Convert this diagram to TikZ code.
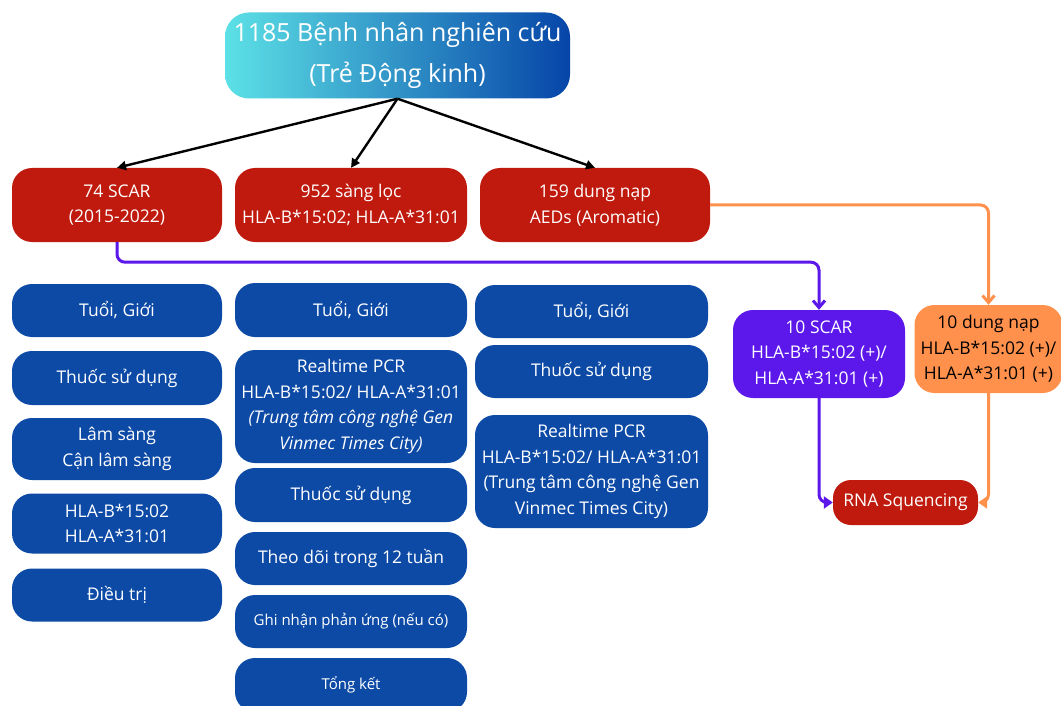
\documentclass[tikz,border=0pt]{standalone}
\usepackage{fontspec}
\setmainfont{Open Sans}
\usepackage{tikz}
\usetikzlibrary{arrows.meta}
\definecolor{scarred}{HTML}{BF1A0D}
\definecolor{itemblue}{HTML}{0C4AA6}
\definecolor{scarpurple}{HTML}{5C17EB}
\definecolor{tolorange}{HTML}{FF914D}
\definecolor{gradleft}{HTML}{5CE1E6}
\definecolor{gradright}{HTML}{0645A8}
\tikzset{
  % --- boxes ---
  flowbox/.style={rounded corners=20pt, align=center, inner sep=2pt,
                  text=white, font=\fontsize{17.5}{25.5}\selectfont},
  topbox/.style={flowbox, rounded corners=24pt, left color=gradleft,
                 right color=gradright, font=\fontsize{25}{41}\selectfont},
  redbox/.style={flowbox, fill=scarred},
  bluebox/.style={flowbox, fill=itemblue},
  purplebox/.style={flowbox, fill=scarpurple},
  orangebox/.style={flowbox, fill=tolorange, text=black},
  smalltext/.style={font=\fontsize{15}{18}\selectfont},
  % --- connectors ---
  split/.style={-{Triangle[length=9pt,width=9pt]}, line width=2.4pt, draw=black},
  scarflow/.style={line width=3pt, draw=scarpurple, rounded corners=8pt,
                   -{Straight Barb[length=7pt,width=12pt]}},
  tolflow/.style={scarflow, draw=tolorange},
  rnatip/.style={-{Triangle[length=9pt,width=12pt]}},
}

\begin{document}
\begin{tikzpicture}[x=1pt, y=-1pt,
  c1/.style={bluebox, minimum width=210pt},
  c2/.style={bluebox, minimum width=232pt},
  c3/.style={bluebox, minimum width=233pt},
]
  \clip (0,0) rectangle (1061,706);
  \fill[white] (0,0) rectangle (1061,706);

  % --- cohort (top) ---
  \node[topbox, minimum width=345pt, minimum height=86pt] (cohort) at (397.5,55.5)
        {1185 Bệnh nhân nghiên cứu\\(Trẻ Động kinh)};

  % --- three groups ---
  \node[redbox, minimum width=210pt, minimum height=74pt] (scar)   at (117,205) {74 SCAR\\(2015-2022)};
  \node[redbox, minimum width=232pt, minimum height=74pt] (screen) at (351,205) {952 sàng lọc\\HLA-B*15:02; HLA-A*31:01};
  \node[redbox, minimum width=230pt, minimum height=74pt] (tol)    at (595,205) {159 dung nạp\\AEDs (Aromatic)};

  % --- column 1: SCAR ---
  \node[c1, minimum height=53pt] (scarage)  at (117,310.5) {Tuổi, Giới};
  \node[c1, minimum height=54pt] (scardrug) at (117,378)   {Thuốc sử dụng};
  \node[c1, minimum height=62pt] (scarclin) at (117,449)   {Lâm sàng\\Cận lâm sàng};
  \node[c1, minimum height=60pt] (scarhla)  at (117,523.5) {HLA-B*15:02\\HLA-A*31:01};
  \node[c1, minimum height=53pt] (scartreat) at (117,595)  {Điều trị};

  % --- column 2: screening ---
  \node[c2, minimum height=54pt]  (scrage)  at (351,310)   {Tuổi, Giới};
  \node[c2, minimum height=113pt] (scrpcr)  at (351,406.5)
        {Realtime PCR\\HLA-B*15:02/ HLA-A*31:01\\\textit{(Trung tâm công nghệ Gen}\\\textit{Vinmec Times City)}};
  \node[c2, minimum height=54pt]  (scrdrug) at (351,495)   {Thuốc sử dụng};
  \node[c2, minimum height=53pt]  (scrfollow) at (351,558.5) {Theo dõi trong 12 tuần};
  \node[c2, smalltext, minimum height=53pt] (scrreact) at (351,621.5) {Ghi nhận phản ứng (nếu có)};
  \node[c2, smalltext, minimum height=54pt] (scrsum)   at (351,685)   {Tổng kết};

  % --- column 3: tolerant ---
  \node[c3, minimum height=53pt]  (tolage)  at (591.5,311.5) {Tuổi, Giới};
  \node[c3, minimum height=53pt]  (toldrug) at (591.5,371.5) {Thuốc sử dụng};
  \node[c3, minimum height=113pt] (tolpcr)  at (591.5,471.5)
        {Realtime PCR\\HLA-B*15:02/ HLA-A*31:01\\(Trung tâm công nghệ Gen\\Vinmec Times City)};

  % --- HLA positive subsets + sequencing ---
  \node[purplebox, minimum width=172pt, minimum height=88pt] (scarpos) at (819,354)
        {10 SCAR\\HLA-B*15:02 (+)/\\HLA-A*31:01 (+)};
  \node[orangebox, minimum width=148pt, minimum height=88pt] (tolpos) at (988.5,349)
        {10 dung nạp\\HLA-B*15:02 (+)/\\HLA-A*31:01 (+)};
  \node[redbox, rounded corners=18pt, minimum width=145pt, minimum height=45pt] (rna) at (905.5,502.5)
        {RNA Squencing};

  % --- cohort splits into the groups ---
  \foreach \g in {scar,screen,tol}
      \draw[split] (cohort.south) -- (\g.north);
  % --- HLA positive cases go on ---
  \draw[scarflow] (scar.south) -- ++(0,20) -| (scarpos.north);
  \draw[tolflow]  (tol.east) -| (tolpos.north);
  \draw[scarflow, rnatip] (scarpos.south) |- (rna.west);
  \draw[tolflow, rnatip]  (tolpos.south) |- (rna.east);
\end{tikzpicture}
\end{document}
